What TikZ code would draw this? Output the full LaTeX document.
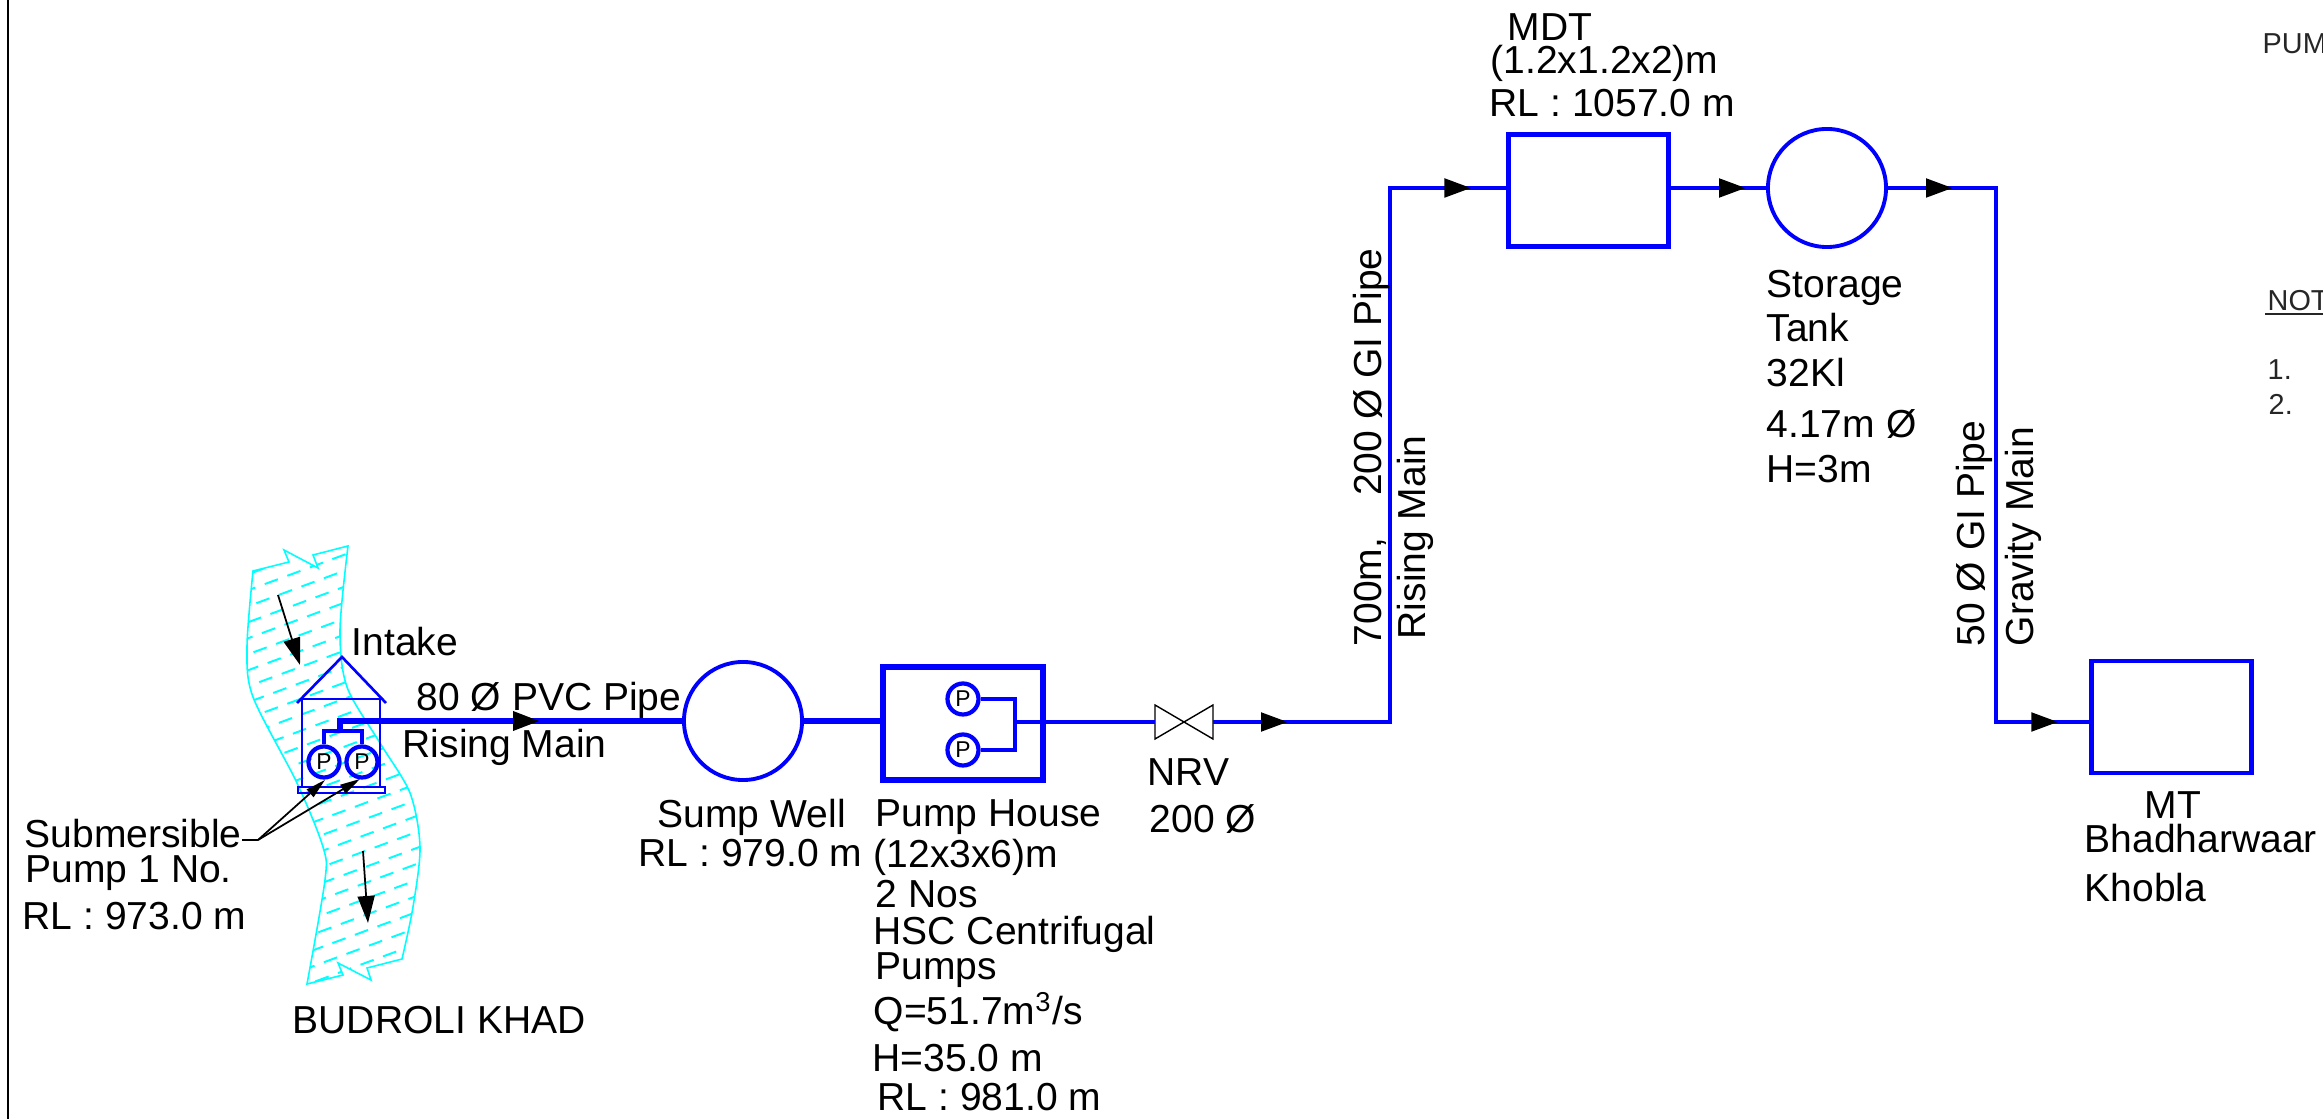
\documentclass[tikz,border=0pt]{standalone}
\usepackage{fontspec}
\setmainfont{Liberation Sans}
\usepackage{xcolor}
\usepackage{tikz}
\usetikzlibrary{arrows.meta,decorations.markings}
\definecolor{pipeblue}{RGB}{0, 0, 255}
\definecolor{rivercyan}{RGB}{0, 255, 255}
\newcommand{\riverpath}{plot[smooth] coordinates {(253,571) (247,647) (253,697) (297,783) (323,847) (325,880) (307,984)}
  -- (343,975) -- (338,963) -- (371,980) -- (367,968) -- (402,959)
  -- plot[smooth] coordinates {(402,959) (413,907) (420,847) (410,793) (380,743) (347,687) (340,630) (348,546)}
  -- (313,555) -- (318,568) -- (284,550) -- (289,562) -- cycle}
\tikzset{
  label/.style={anchor=base west,inner sep=0pt,font=\fontsize{11.1}{13}\selectfont},
  thinlabel/.style={anchor=base west,inner sep=0pt,font=\fontsize{8.2}{10}\selectfont,text=black!85},
  pipe/.style={pipeblue,line width=1.4pt},
  mainpipe/.style={pipeblue,line width=1.7pt},
  flowat/.style={postaction={decorate,decoration={markings,mark=at position #1 with {\arrow{Triangle[color=black,fill=black,length=0.27cm,width=0.18cm]}}}}},
  tankround/.style={draw=pipeblue,line width=1.1pt,circle,minimum size=1.18cm,inner sep=0pt},
  tankbox/.style={draw=pipeblue,line width=1.4pt,minimum width=1.6cm,minimum height=1.12cm,inner sep=0pt},
  pumpring/.style={draw=pipeblue,line width=1.2pt,circle,minimum size=0.31cm,inner sep=0pt,font=\fontsize{6.5}{7}\selectfont},
  leader/.style={black,line width=0.5pt},
  leadertip/.style={leader,-{Triangle[length=0.2cm,width=0.1cm]}},
  flowtip/.style={leader,-{Triangle[length=0.27cm,width=0.17cm]}},
}
\begin{document}
\begin{tikzpicture}[x=0.01cm,y=-0.01cm]
\useasboundingbox (0,0) rectangle (2323,1119);
\coordinate (edgetop) at (8,0);
\coordinate (edgebot) at (8,1119);
\draw[black,line width=0.6pt] (edgetop) -- (edgebot);
% river
\begin{scope}
\clip \riverpath;
\foreach \k in {0,...,32}
  \draw[rivercyan,line width=0.55pt,dash pattern=on 0.14cm off 0.1cm,dash phase=\k*0.09cm] (200,{560+\k*16}) -- (460,{464+\k*16});
\end{scope}
\draw[rivercyan,line width=0.45pt] \riverpath;
\coordinate (flowA) at (278,595);
\coordinate (flowB) at (300,665);
\coordinate (flowC) at (363,851);
\coordinate (flowD) at (368,923);
\draw[flowtip] (flowA) -- (flowB);
\draw[flowtip] (flowC) -- (flowD);
% intake
\coordinate (roofL) at (297,703);
\coordinate (apex) at (342,657);
\coordinate (roofR) at (386,703);
\draw[pipeblue,line width=0.75pt] (roofL) -- (apex) -- (roofR);
\draw[pipeblue,line width=0.75pt] (302,699) rectangle (380,787);
\draw[pipeblue,line width=0.75pt] (298,787) rectangle (385,793);
\node[pumpring] (subA) at (324,762) {P};
\node[pumpring] (subB) at (362,762) {P};
\coordinate (headA) at (324,731);
\coordinate (headB) at (362,731);
\coordinate (riser) at (340,731);
\coordinate (riserTop) at (340,721);
\draw[pipe] (subA.north) -- (headA) -- (headB) -- (subB.north);
% main line
\node[tankround] (sump) at (743,721) {};
\node[draw=pipeblue,line width=1.7pt,minimum width=1.6cm,minimum height=1.13cm,inner sep=0pt] (house) at (963,723.5) {};
\draw[mainpipe,flowat=2.1cm] (riser) -- (riserTop) -- (sump.west);
\draw[mainpipe] (sump.east) -- (sump.east -| house.west);
\node[pumpring] (pumpA) at (963,699) {P};
\node[pumpring] (pumpB) at (963,750) {P};
\coordinate (manA) at (1015,699);
\coordinate (manB) at (1015,750);
\coordinate (manC) at (1015,722);
\draw[pipe] (pumpA.east) -- (manA) -- (manB) -- (pumpB.east);
\coordinate (nrvW) at (1155,722);
\coordinate (nrvE) at (1213,722);
\draw[black,line width=0.4pt] (1155,705) -- (1213,739) -- (1213,705) -- (1155,739) -- cycle;
\draw[pipe] (manC) -- (nrvW);
\node[tankbox] (mdt) at (1588.5,190.5) {};
\node[tankround] (storage) at (1827,188) {};
\node[tankbox] (mt) at (2171.5,717) {};
\coordinate (bendA) at (1390,722);
\coordinate (bendB) at (1390,188);
\coordinate (bendC) at (1996,188);
\coordinate (bendD) at (1996,722);
\draw[pipe,flowat=0.75cm,flowat=7.92cm] (nrvE) -- (bendA) -- (bendB) -- (mdt.west |- bendB);
\draw[pipe,flowat=0.75cm] (mdt.east |- storage.west) -- (storage.west);
\draw[pipe,flowat=0.65cm,flowat=7.04cm] (storage.east) -- (bendC) -- (bendD) -- (mt.west |- bendD);
% pump callout
\coordinate (callA) at (242,840);
\coordinate (callB) at (258,840);
\coordinate (callC) at (325,780);
\coordinate (callD) at (360,779);
\draw[leader] (callA) -- (callB);
\draw[leadertip] (callB) -- (callC);
\draw[leadertip] (callB) -- (callD);
% labels
\node[label] (mdtname) at (1507,41) {MDT};
\node[label] (mdtsize) at (1490,74) {(1.2x1.2x2)m};
\node[label] (mdtrl) at (1489,117) {RL : 1057.0 m};
\node[label] (stor1) at (1766,298) {Storage};
\node[label] (stor2) at (1766,342) {Tank};
\node[label] (stor3) at (1766,387) {32Kl};
\node[label] (stor4) at (1766,438) {4.17m Ø};
\node[label] (stor5) at (1766,483) {H=3m};
\node[label,rotate=90] (risepipe) at (1381,647) {700m,\hspace{0.42cm}200 Ø GI Pipe};
\node[label,rotate=90] (risemain) at (1425,640) {Rising Main};
\node[label,rotate=90] (gravpipe) at (1984,647) {50 Ø GI Pipe};
\node[label,rotate=90] (gravmain) at (2033,647) {Gravity Main};
\node[label] (intake) at (351,656) {Intake};
\node[label] (pvc) at (416,711) {80 Ø PVC Pipe};
\node[label] (rising) at (402,758) {Rising Main};
\node[label] (sump1) at (657,828) {Sump Well};
\node[label] (sump2) at (638,867) {RL : 979.0 m};
\node[label] (sub1) at (24,848) {Submersible};
\node[label] (sub2) at (25,883) {Pump 1 No.};
\node[label] (sub3) at (22,930) {RL : 973.0 m};
\node[label] (khad) at (292,1034) {BUDROLI KHAD};
\node[label] (ph1) at (875,827) {Pump House};
\node[label] (ph2) at (873,868) {(12x3x6)m};
\node[label] (ph3) at (875,908) {2 Nos};
\node[label] (ph4) at (873,945) {HSC Centrifugal};
\node[label] (ph5) at (875,980) {Pumps};
\node[label] (ph6) at (873,1025) {Q=51.7m\textsuperscript{3}/s};
\node[label] (ph7) at (872,1072) {H=35.0 m};
\node[label] (ph8) at (877,1111) {RL : 981.0 m};
\node[label] (nrv1) at (1147,786) {NRV};
\node[label] (nrv2) at (1149,833) {200 Ø};
\node[label] (mt1) at (2144,819) {MT};
\node[label] (mt2) at (2084,853) {Bhadharwaar};
\node[label] (mt3) at (2084,902) {Khobla};
\node[thinlabel] (pum) at (2262,54) {PUM};
\node[thinlabel] (not) at (2267,311) {NOT};
\coordinate (noteL) at (2265,314);
\coordinate (noteR) at (2323,314);
\draw[black!85,line width=0.4pt] (noteL) -- (noteR);
\node[thinlabel] (noteA) at (2267,380) {1.};
\node[thinlabel] (noteB) at (2268,415) {2.};
\end{tikzpicture}
\end{document}
